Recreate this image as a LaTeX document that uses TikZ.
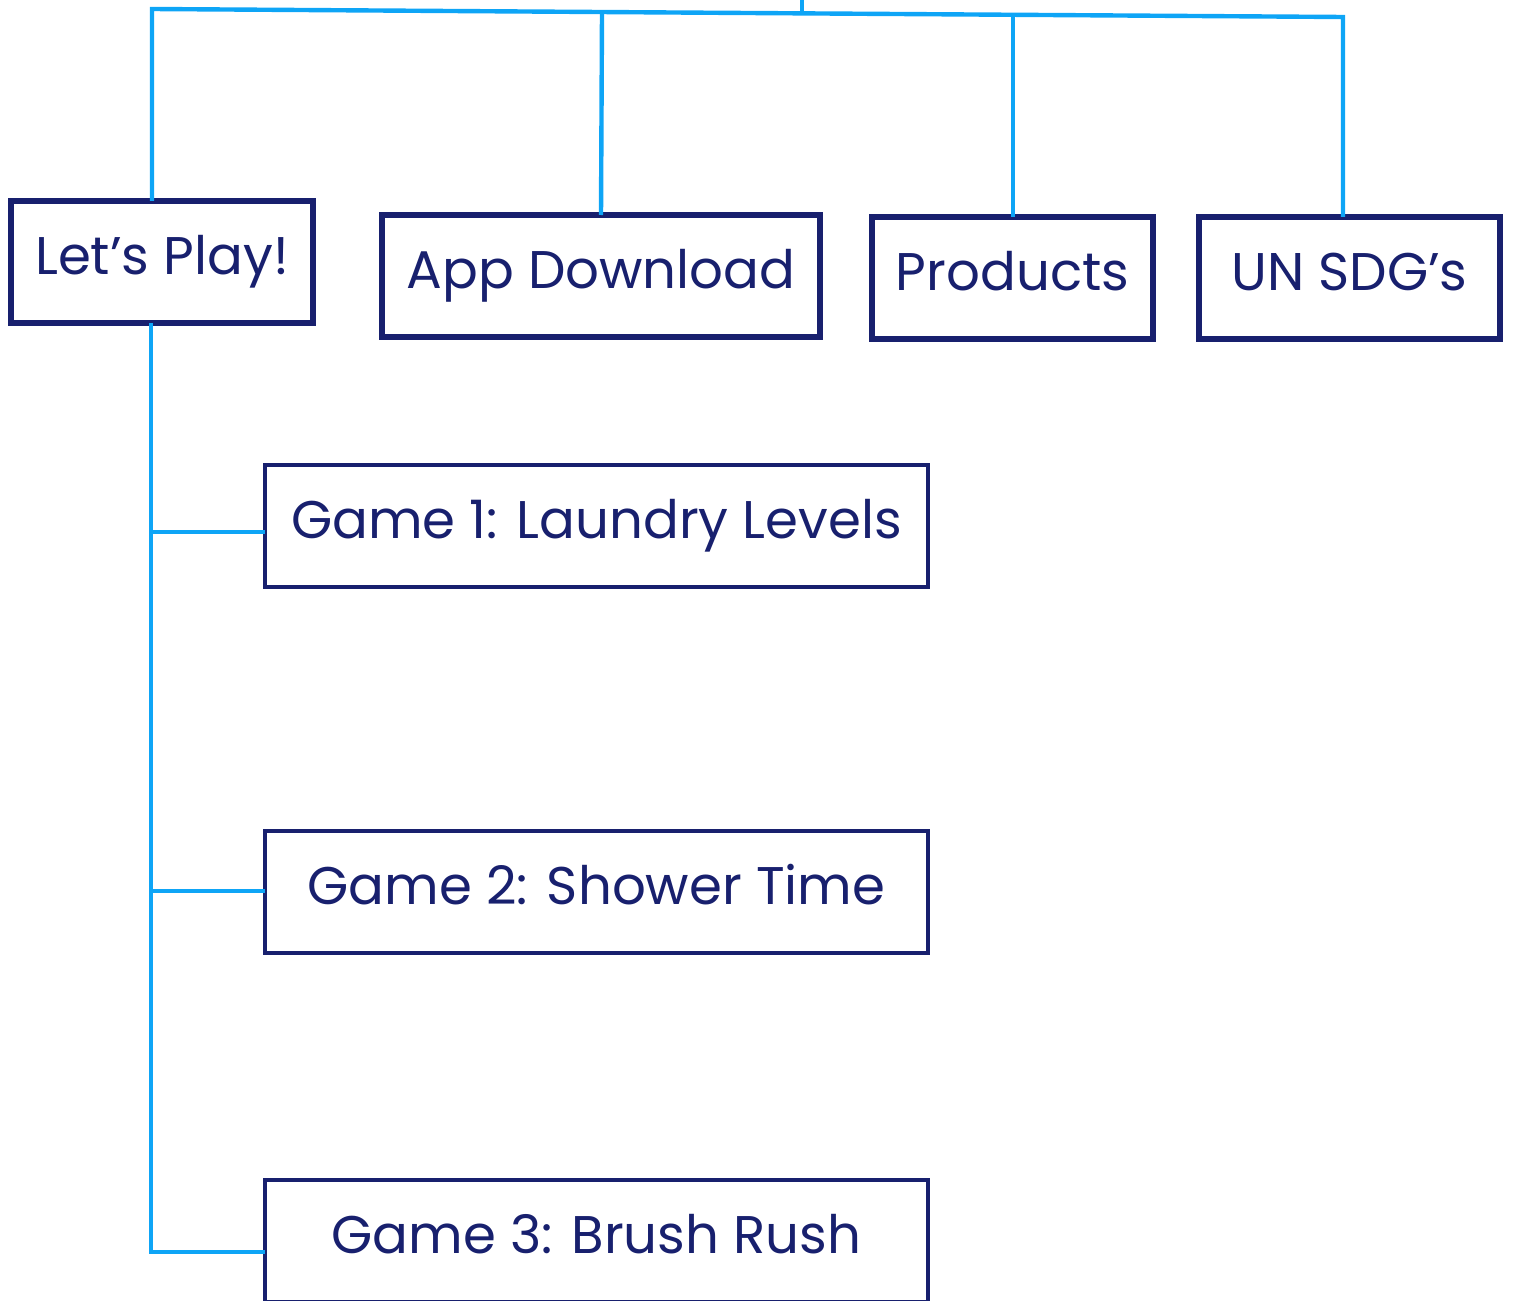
\documentclass[tikz,border=0pt]{standalone}
\usepackage{fontspec}
\setmainfont{Poppins}
\definecolor{navy}{RGB}{24,32,110}
\definecolor{skyline}{RGB}{14,165,246}
\begin{document}
\begin{tikzpicture}[x=0.5pt,y=-0.5pt,
  boxtext/.style={text=navy,font=\fontsize{26.5}{30}\selectfont,text height=20pt,text depth=8pt},
  topbox/.style={boxtext,draw=navy,line width=3.3pt,inner sep=0pt,outer sep=0pt,minimum height=61pt},
  gamebox/.style={boxtext,draw=navy,line width=2.3pt,inner sep=0pt,outer sep=0pt,minimum width=331.5pt,minimum height=61pt},
  link/.style={draw=skyline,line width=2.2pt,line join=miter}]
\useasboundingbox (0,0) rectangle (1513,1300);
\clip (0,0) rectangle (1513,1300);
\node[topbox,minimum width=151pt] (lp) at (162,262) {Let’s Play!};
\node[topbox,minimum width=219pt] (app) at (601,276) {App Download};
\node[topbox,minimum width=140.5pt] (prod) at (1012.5,278) {Products};
\node[topbox,minimum width=150.5pt] (sdg) at (1349.5,278) {UN SDG’s};
\node[gamebox] (g1) at (596.5,526) {Game 1: Laundry Levels};
\node[gamebox] (g2) at (596.5,892) {Game 2: Shower Time};
\node[gamebox] (g3) at (596.5,1241) {Game 3: Brush Rush};
% top bar
\coordinate (tl) at (152,9);
\coordinate (tr) at (1343,17);
\coordinate (hubtop) at (802,-2);
\coordinate (hub) at (802,14);
\coordinate (ja) at (602,12);
\coordinate (jp) at (1013,15);
\draw[link] (tl |- lp.north) -- (tl) -- (tr) -- (tr |- sdg.north);
\draw[link] (hubtop) -- (hub);
\draw[link] (ja) -- (app.north);
\draw[link] (jp) -- (jp |- prod.north);
% let's play branch
\coordinate (lpb) at (151,323);
\coordinate (j1) at (151,532);
\coordinate (j2) at (151,891);
\coordinate (j3) at (151,1252);
\draw[link] (lpb |- lp.south) -- (j3) -- (j3 -| g3.west);
\draw[link] (j1) -- (j1 -| g1.west);
\draw[link] (j2) -- (j2 -| g2.west);
\end{tikzpicture}
\end{document}
